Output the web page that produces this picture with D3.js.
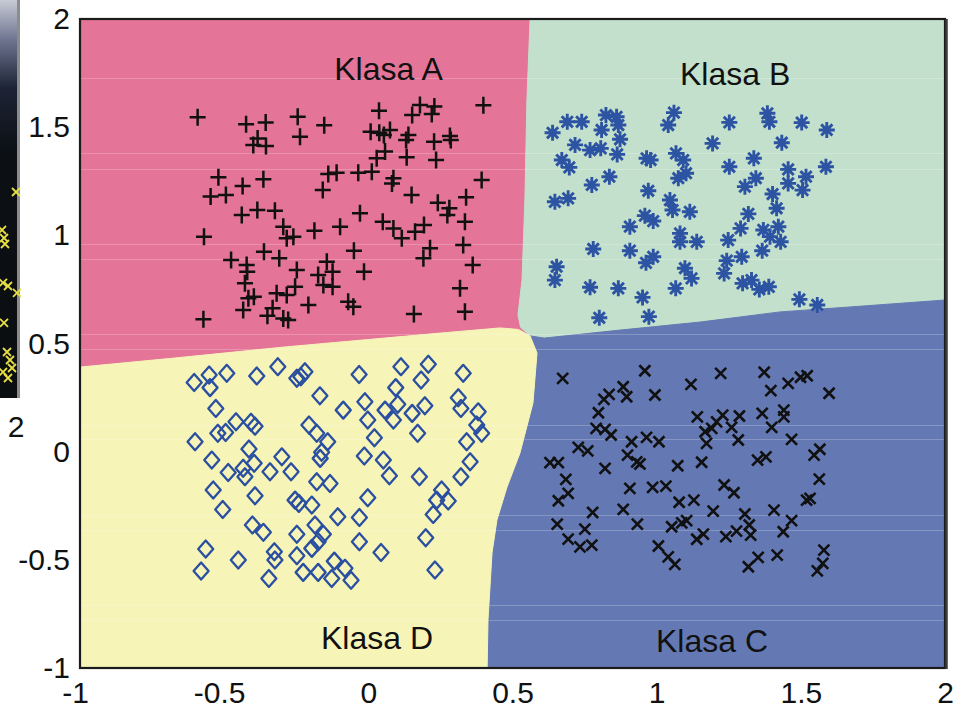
<!DOCTYPE html>
<html>
<head>
<meta charset="utf-8">
<script src="https://cdn.jsdelivr.net/npm/d3@7"></script>
<style>
  body { margin: 0; background: #fff; }
  svg { display: block; }
</style>
</head>
<body>
<div id="chart"></div>
<script>
// points, [x, y]
var klasaA = [
  [-0.592,1.546],[-0.424,1.513],[-0.356,1.521],[-0.245,1.548],[-0.153,1.509],[0.037,1.576],[0.179,1.602],[0.152,1.556],[0.229,1.595],[0.220,1.561],[0.399,1.601],
  [-0.384,1.448],[-0.399,1.418],[-0.355,1.413],[-0.237,1.456],[0.008,1.479],[0.038,1.474],[0.075,1.487],[0.054,1.464],[0.139,1.464],[0.131,1.441],[0.228,1.433],[0.283,1.459],[0.286,1.441],
  [0.058,1.387],[0.029,1.356],[0.133,1.361],[0.235,1.348],
  [-0.520,1.268],[-0.436,1.228],[-0.364,1.259],[-0.547,1.179],[-0.494,1.186],[-0.139,1.283],[-0.110,1.289],[-0.158,1.209],[-0.035,1.289],[0.012,1.294],[0.087,1.264],[0.082,1.240],[0.150,1.186],[0.393,1.256],[0.339,1.176],[0.241,1.151],[0.281,1.125],[0.274,1.094],[0.335,1.063],
  [-0.439,1.094],[-0.385,1.117],[-0.324,1.114],[-0.029,1.102],[0.050,1.063],[0.087,1.032],[0.116,0.986],[0.162,1.017],[0.193,1.048],
  [-0.570,0.994],[-0.295,1.040],[-0.260,0.994],[-0.283,0.986],[-0.187,1.021],[-0.098,1.040],[0.329,0.955],[0.214,0.940],[0.191,0.894],
  [-0.362,0.924],[-0.476,0.886],[-0.422,0.863],[-0.420,0.832],[-0.309,0.894],[-0.050,0.929],[-0.144,0.878],[-0.248,0.840],[-0.124,0.832],[-0.174,0.817],[-0.156,0.770],[-0.124,0.762],[-0.015,0.832],[0.362,0.863],
  [-0.428,0.778],[-0.254,0.762],[0.318,0.755],[-0.416,0.709],[-0.397,0.716],[-0.318,0.732],[-0.283,0.724],[-0.208,0.678],[-0.070,0.693],[-0.052,0.670],[-0.434,0.655],[-0.332,0.663],[-0.350,0.628],[-0.295,0.616],[-0.278,0.609],[-0.572,0.612],[0.158,0.636],[0.335,0.647]
];

var klasaB = [
  [0.639,1.474],[0.690,1.525],[0.740,1.525],[0.824,1.556],[0.861,1.548],[0.867,1.510],[0.809,1.487],[1.060,1.567],[1.040,1.510],[1.252,1.522],[1.384,1.564],[1.391,1.525],[1.503,1.521],[1.590,1.487],
  [0.873,1.444],[0.717,1.418],[0.769,1.394],[0.806,1.402],[0.863,1.374],[1.194,1.425],[1.434,1.428],
  [0.671,1.348],[0.697,1.314],[0.965,1.356],[0.979,1.348],[1.067,1.379],[1.092,1.348],[1.337,1.356],
  [0.836,1.271],[0.775,1.233],[1.102,1.287],[1.075,1.264],[1.252,1.317],[1.587,1.317],[1.456,1.305],[1.518,1.271],[1.344,1.264],[1.306,1.225],[1.456,1.240],[1.506,1.209],
  [0.647,1.155],[0.693,1.171],[0.971,1.206],[1.046,1.163],[1.402,1.191],[1.416,1.125],[1.055,1.117],[1.115,1.109],[0.959,1.091],[0.988,1.066],[1.318,1.099],
  [0.907,1.040],[1.291,1.032],[1.081,1.009],[1.081,0.970],[1.139,0.970],[1.248,0.978],[1.370,1.025],[1.422,1.040],[1.393,0.994],[1.430,0.970],
  [0.780,0.937],[0.907,0.929],[0.988,0.901],[0.963,0.873],[1.366,0.929],[1.295,0.901],[1.243,0.883],
  [0.653,0.855],[0.647,0.793],[1.098,0.848],[1.121,0.801],[1.234,0.824],
  [0.769,0.760],[0.867,0.755],[1.066,0.755],[1.298,0.778],[1.329,0.793],[1.356,0.750],[1.389,0.762],[0.951,0.713],[1.495,0.704],[1.557,0.678],[0.801,0.619],[0.973,0.624]
];

var klasaC = [
  [0.674,0.339],[0.959,0.374],[1.222,0.362],[1.373,0.367],[1.499,0.344],[1.522,0.351],[1.119,0.311],[1.456,0.316],[1.396,0.282],[1.598,0.270],
  [0.884,0.300],[0.835,0.265],[0.817,0.242],[0.896,0.254],[0.994,0.262],
  [0.798,0.180],[1.141,0.161],[1.229,0.169],[1.287,0.165],[1.366,0.177],[1.441,0.192],[1.441,0.161],[1.208,0.138],[1.260,0.112],[1.168,0.092],[1.191,0.108],[1.399,0.112],
  [0.790,0.108],[0.821,0.103],[0.842,0.077],[0.913,0.046],[0.965,0.066],[1.008,0.046],[1.173,0.038],[1.283,0.054],[1.468,0.057],
  [0.728,0.020],[0.761,0.004],[1.566,0.011],[1.546,-0.016],[0.630,-0.051],[0.659,-0.051],[0.899,-0.016],[0.942,-0.057],[0.931,-0.047],[0.821,-0.077],[1.073,-0.065],[1.156,-0.049],[1.350,-0.039],[1.379,-0.024],
  [0.685,-0.128],[1.564,-0.127],[0.907,-0.170],[0.986,-0.165],[1.032,-0.159],[1.234,-0.154],[1.268,-0.190],[0.693,-0.193],[0.659,-0.227],[1.078,-0.234],[1.129,-0.224],[1.532,-0.216],[1.520,-0.224],
  [0.884,-0.267],[0.778,-0.281],[1.196,-0.275],[1.407,-0.270],[1.306,-0.288],
  [0.655,-0.335],[0.751,-0.358],[0.933,-0.335],[1.052,-0.347],[1.087,-0.329],[1.104,-0.319],[1.277,-0.367],[1.321,-0.339],[1.326,-0.386],[1.468,-0.319],[1.439,-0.370],
  [0.693,-0.404],[0.734,-0.440],[0.775,-0.432],[1.139,-0.405],[1.162,-0.381],[1.240,-0.393],
  [1.006,-0.436],[1.040,-0.486],[1.063,-0.521],[1.352,-0.489],[1.418,-0.478],[1.318,-0.532],[1.580,-0.455],[1.576,-0.516],[1.557,-0.551]
];

var klasaD = [
  [-0.604,0.320],[-0.552,0.354],[-0.549,0.296],[-0.491,0.362],[-0.387,0.350],[-0.314,0.393],[-0.248,0.339],[-0.220,0.369],[-0.234,0.346],[-0.032,0.357],[0.113,0.393],[0.208,0.404],[0.183,0.331],[0.095,0.296],[0.329,0.362],
  [-0.168,0.258],[-0.529,0.200],[-0.087,0.192],[-0.012,0.231],[-0.002,0.146],[0.058,0.192],[0.102,0.219],[0.087,0.146],[0.152,0.177],[0.196,0.212],[0.312,0.249],[0.321,0.200],[0.381,0.184],
  [-0.459,0.138],[-0.407,0.136],[-0.393,0.118],[-0.522,0.085],[-0.495,0.089],[-0.601,0.046],[-0.206,0.123],[-0.179,0.085],[-0.141,0.046],[-0.162,-0.003],[-0.167,-0.031],[0.021,0.064],[0.171,0.085],[0.376,0.123],[0.393,0.085],[0.341,0.046],
  [-0.414,0.012],[-0.543,-0.039],[-0.014,-0.020],[-0.300,-0.024],[0.052,-0.039],[0.353,-0.047],
  [-0.486,-0.096],[-0.434,-0.077],[-0.396,-0.054],[-0.428,-0.116],[-0.341,-0.093],[-0.268,-0.093],[0.073,-0.111],[0.177,-0.116],[0.321,-0.116],
  [-0.538,-0.177],[-0.393,-0.204],[-0.179,-0.139],[-0.133,-0.147],[-0.254,-0.224],[-0.241,-0.239],[-0.196,-0.247],[-0.002,-0.213],[0.254,-0.177],[0.237,-0.224],[0.277,-0.228],
  [-0.505,-0.267],[-0.106,-0.301],[-0.031,-0.304],[0.225,-0.290],[-0.402,-0.339],[-0.364,-0.373],[-0.185,-0.339],[-0.248,-0.382],[-0.156,-0.382],[-0.174,-0.416],[-0.196,-0.447],[-0.031,-0.416],[0.199,-0.398],
  [-0.564,-0.450],[-0.451,-0.501],[-0.326,-0.463],[-0.324,-0.501],[-0.248,-0.481],[0.044,-0.466],
  [-0.580,-0.552],[-0.345,-0.586],[-0.226,-0.558],[-0.174,-0.558],[-0.118,-0.506],[-0.081,-0.539],[-0.060,-0.594],[-0.127,-0.586],[0.231,-0.547]
];

// decision boundaries between the four classes
var edgeAB = [[0.561,2],[0.550,1.626],[0.543,1.163],[0.533,0.794],[0.519,0.632],[0.528,0.575]];
var edgeAD = [[-1,0.391],[-0.671,0.433],[-0.289,0.484],[0.249,0.548],[0.457,0.572],[0.52,0.565]];
var edgeBC = [[0.61,0.525],[0.873,0.562],[1.150,0.599],[1.428,0.646],[1.671,0.669],[2,0.701]];
var edgeDC = [[0.585,0.456],[0.571,0.225],[0.526,-0.006],[0.481,-0.163],[0.446,-0.316],[0.429,-0.468],[0.415,-0.778],[0.412,-1]];
var junction = [0.561,0.535];

var tickValues = [-1, -0.5, 0, 0.5, 1, 1.5, 2];
var classNames = ['Klasa A', 'Klasa B', 'Klasa C', 'Klasa D'];
var labelX = [0.070, 1.272, 1.192, 0.030];
var labelY = [1.718, 1.695, -0.926, -0.912];

// the strip of another figure on the left edge
var insetMarks = [[0.8,0.52],[0.1,0.425],[0.2,0.405],[0.25,0.39],[0.15,0.293],[0.4,0.285],[0.85,0.268],[0.2,0.193],[0.35,0.12],[0.5,0.1],[0.6,0.08],[0.15,0.07],[0.4,0.055]];

var width = 969, height = 709;

var svg = d3.select('#chart').append('svg')
  .attr('width', width)
  .attr('height', height);

var x = d3.scaleLinear().domain([-1, 2]).range([80, 945]);
var y = d3.scaleLinear().domain([-1, 2]).range([668, 19]);

var rev = function(a){ return a.slice().reverse(); };

var regions = [
  { pts: [[-1,2]].concat(edgeAB, [junction], rev(edgeAD)), fill: '#e47498' },
  { pts: [[2,2]].concat(rev(edgeBC), [junction], rev(edgeAB)), fill: '#c3e0cc' },
  { pts: [junction].concat(edgeBC, [[2,-1]], rev(edgeDC)), fill: '#6479b3' },
  { pts: [[-1,-1]].concat(edgeAD, [junction], edgeDC), fill: '#f7f4b8' }
];

var line = d3.line()
  .x(function(d){ return x(d[0]); })
  .y(function(d){ return y(d[1]); })
  .curve(d3.curveLinearClosed);

svg.selectAll('path.region')
  .data(regions)
  .enter()
  .append('path')
  .attr('class', 'region')
  .attr('d', function(d){ return line(d.pts); })
  .attr('fill', function(d){ return d.fill; })
  .attr('stroke', function(d){ return d.fill; })
  .attr('stroke-width', 1);

// faint scan lines in the original
var scanY = [78, 153, 169, 244, 259, 334, 349, 425, 439, 515, 530, 605, 620];
svg.selectAll('line.scan')
  .data(scanY)
  .enter()
  .append('line')
  .attr('x1', 0).attr('x2', 944)
  .attr('y1', function(d){ return d + 0.5; })
  .attr('y2', function(d){ return d + 0.5; })
  .attr('stroke', '#ffffff')
  .attr('stroke-opacity', 0.22)
  .attr('stroke-width', 1);

// markers
var plusPath = 'M-8,0H8M0,-8.5V8.5';
var starPath = 'M-8,0H8M0,-8V8M-5.6,-5.6L5.6,5.6M-5.6,5.6L5.6,-5.6';
var crossPath = 'M-5.5,-5.5L5.5,5.5M-5.5,5.5L5.5,-5.5';
var diamondPath = 'M0,-8.5L7.5,0L0,8.5L-7.5,0Z';

var drawMarks = function(data, path, color, sw){
  svg.append('g')
    .selectAll('path')
    .data(data)
    .enter()
    .append('path')
    .attr('transform', function(d){ return 'translate(' + x(d[0]) + ',' + y(d[1]) + ')'; })
    .attr('d', path)
    .attr('fill', 'none')
    .attr('stroke', color)
    .attr('stroke-width', sw)
    .attr('stroke-linejoin', 'round');
};

drawMarks(klasaA, plusPath, '#111111', 2.5);
drawMarks(klasaB, starPath, '#2d53a3', 2.9);
drawMarks(klasaC, crossPath, '#111111', 2.6);
drawMarks(klasaD, diamondPath, '#2a4fa0', 2.3);

// class labels
svg.selectAll('text.klasa')
  .data(classNames)
  .enter()
  .append('text')
  .attr('class', 'klasa')
  .attr('x', function(d, i){ return x(labelX[i]); })
  .attr('y', function(d, i){ return y(labelY[i]); })
  .attr('text-anchor', 'middle')
  .attr('font-family', 'Liberation Sans, Arial, sans-serif')
  .attr('font-size', 32)
  .attr('fill', '#111')
  .text(function(d){ return d; });

// frame
svg.append('rect')
  .attr('x', x(-1)).attr('y', y(2))
  .attr('width', x(2) - x(-1)).attr('height', y(-1) - y(2))
  .attr('fill', 'none')
  .attr('stroke', '#1b1b1b')
  .attr('stroke-width', 2.2);
svg.append('line')
  .attr('x1', x(2) + 1.5).attr('x2', x(2) + 1.5)
  .attr('y1', y(2)).attr('y2', y(-1) + 1)
  .attr('stroke', '#3a3a3a')
  .attr('stroke-width', 2.5);

// axes
var fmt = function(d){ return String(d); };

var xAxis = svg.append('g')
  .attr('transform', 'translate(0,' + y(-1) + ')')
  .call(d3.axisBottom(x).tickValues(tickValues).tickFormat(fmt).tickSize(0).tickPadding(14));
var yAxis = svg.append('g')
  .attr('transform', 'translate(' + x(-1) + ',0)')
  .call(d3.axisLeft(y).tickValues(tickValues).tickFormat(fmt).tickSize(0).tickPadding(10));

[xAxis, yAxis].forEach(function(g){
  g.select('.domain').remove();
  g.selectAll('text')
    .attr('font-family', 'Liberation Sans, Arial, sans-serif')
    .attr('font-size', 30)
    .attr('fill', '#111');
});
// minus signs hang to the left of the centred number
xAxis.selectAll('text')
  .attr('dx', function(d){ return d < 0 ? -5 : 0; });

// left inset strip
var defs = svg.append('defs');
var grad = defs.append('linearGradient')
  .attr('id', 'insetGrad')
  .attr('x1', 0).attr('y1', 0).attr('x2', 0).attr('y2', 1);
grad.append('stop').attr('offset', '0%').attr('stop-color', '#c7cbd5');
grad.append('stop').attr('offset', '10%').attr('stop-color', '#6f7590');
grad.append('stop').attr('offset', '22%').attr('stop-color', '#1d2436');
grad.append('stop').attr('offset', '38%').attr('stop-color', '#0c1015');
grad.append('stop').attr('offset', '100%').attr('stop-color', '#0b0e10');

var insetX = d3.scaleLinear().domain([0, 1]).range([0, 20]);
var insetY = d3.scaleLinear().domain([0, 1]).range([400, 0]);

svg.append('rect')
  .attr('x', 0).attr('y', 0)
  .attr('width', 17).attr('height', 398)
  .attr('fill', 'url(#insetGrad)');
svg.append('line')
  .attr('x1', 18.5).attr('x2', 18.5)
  .attr('y1', 0).attr('y2', 398)
  .attr('stroke', '#8c8c8c')
  .attr('stroke-width', 3);

svg.append('g')
  .selectAll('path')
  .data(insetMarks)
  .enter()
  .append('path')
  .attr('transform', function(d){ return 'translate(' + insetX(d[0]) + ',' + insetY(d[1]) + ')'; })
  .attr('d', 'M-4,-4L4,4M-4,4L4,-4')
  .attr('stroke', '#e6df45')
  .attr('stroke-width', 1.8);

svg.append('text')
  .attr('x', 16).attr('y', 437)
  .attr('text-anchor', 'middle')
  .attr('font-family', 'Liberation Sans, Arial, sans-serif')
  .attr('font-size', 30)
  .attr('fill', '#111')
  .text('2');
</script>
</body>
</html>
